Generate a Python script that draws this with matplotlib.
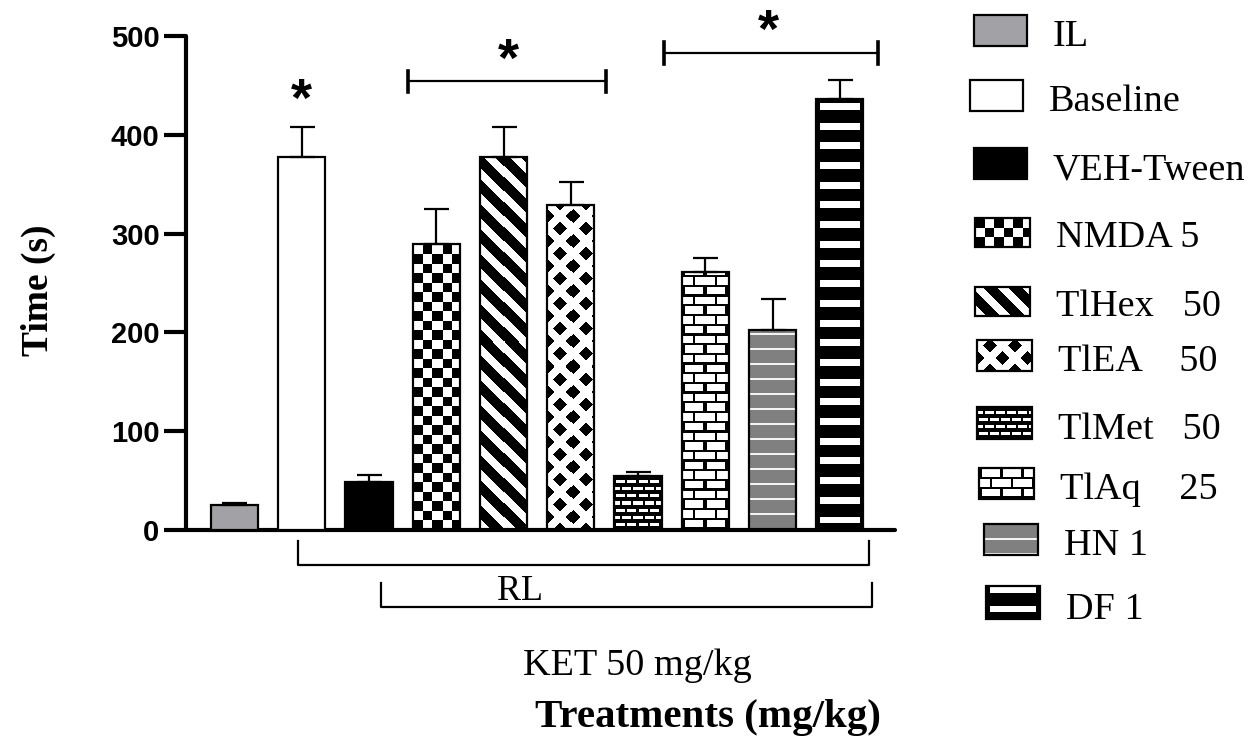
import numpy as np
import matplotlib
matplotlib.use('Agg')
import matplotlib.pyplot as plt
from matplotlib.patches import Rectangle
import matplotlib.transforms as mtransforms

plt.rcParams['font.family'] = 'Liberation Sans'

# data
labels = ['IL', 'Baseline', 'VEH-Tween', 'NMDA 5', 'TlHex   50', 'TlEA    50',
          'TlMet   50', 'TlAq    25', 'HN 1', 'DF 1']
means = [25, 378, 49, 289, 378, 329, 55, 261, 202, 436]
sem = [2, 30, 7, 36, 30, 23, 4, 14, 32, 19]
fills = ['gray', 'white', 'black', 'checker', 'stripes', 'diamonds',
         'brick_dark', 'brick', 'hlines_gray', 'hlines_black']
solid = {'gray': '#a2a2a6', 'white': 'white', 'black': 'black'}


def pattern(kind, w, h):
    yy, xx = np.mgrid[0:h, 0:w].astype(float)
    if kind == 'checker':
        s = 9.5
        img = (np.floor(xx / s) + np.floor(yy / s)) % 2
    elif kind == 'stripes':
        img = (((xx + yy) % 25) < 11).astype(float)
    elif kind == 'diamonds':
        p = 25.0
        du = (xx + yy) % p - p / 2
        dv = (xx - yy) % p - p / 2
        img = 1.0 - ((np.abs(du) < 7) & (np.abs(dv) < 7))
    elif kind == 'brick':
        off = (np.floor(yy / 9.7) % 2) * 10.5
        img = 1.0 - (((yy % 9.7) < 2.3) | (((xx + off) % 21) < 2.5))
    elif kind == 'brick_dark':
        off = (np.floor(yy / 7) % 2) * 5.5
        img = 1.0 - (((yy % 7) < 4) | (((xx + off) % 11) < 2))
    elif kind == 'hlines_gray':
        img = np.full((h, w), 0.5)
        img[(yy % 15) < 2] = 0.95
    elif kind == 'hlines_black':
        img = np.zeros((h, w))
        m = ((yy % 19.7) > 6) & ((yy % 19.7) < 13) & (xx > 3) & (xx < w - 4)
        img[m] = 1
    return img


W, H = 1257, 738
fig = plt.figure(figsize=(W / 100, H / 100), dpi=100)
ax_l, ax_r, ax_t, ax_b = 186, 895, 36, 530
ax = fig.add_axes([ax_l / W, 1 - ax_b / H, (ax_r - ax_l) / W, (ax_b - ax_t) / H])

xlim = (-0.72, 9.82)
ylim = (0, 500)
ppx = (ax_r - ax_l) / (xlim[1] - xlim[0])
ppy = (ax_b - ax_t) / (ylim[1] - ylim[0])
bw = 0.7

x = np.arange(len(means))
for i, (v, kind) in enumerate(zip(means, fills)):
    fc = solid.get(kind, 'none')
    bar = ax.bar(x[i], v, width=bw, facecolor=fc, edgecolor='black',
                 linewidth=1.6, zorder=3)[0]
    if kind not in solid:
        img = pattern(kind, int(round(bw * ppx)), max(1, int(round(v * ppy))))
        im = ax.imshow(img, cmap='gray', vmin=0, vmax=1, origin='lower',
                       extent=(x[i] - bw / 2, x[i] + bw / 2, 0, v),
                       interpolation='nearest', aspect='auto', zorder=2)
        im.set_clip_path(bar)

ax.errorbar(x, means, yerr=[np.zeros(len(sem)), sem], fmt='none',
            ecolor='black', elinewidth=1.6, capsize=9, capthick=1.6, zorder=4)

ax.set_xlim(*xlim)
ax.set_ylim(*ylim)
ax.set_xticks([])
ax.set_yticks([0, 100, 200, 300, 400, 500])
ax.tick_params(axis='y', length=15.5, width=3, pad=3.5, labelsize=21)
for lab in ax.get_yticklabels():
    lab.set_fontweight('bold')
for s in ['top', 'right']:
    ax.spines[s].set_visible(False)
for s in ['left', 'bottom']:
    ax.spines[s].set_linewidth(3)
    ax.spines[s].set_capstyle('round')

# significance brackets above bars
def top_bracket(x0, x1, y, h=11):
    ax.plot([x0, x1], [y, y], color='black', lw=1.6, clip_on=False)
    for xx in (x0, x1):
        ax.plot([xx, xx], [y - h, y + h], color='black', lw=2.6, clip_on=False)

top_bracket(2.58, 5.53, 454)
top_bracket(6.38, 9.56, 483)
star_kw = dict(ha='center', va='center', fontsize=39, fontweight='bold', clip_on=False)
ax.text(1, 433, '*', **star_kw)
ax.text(4.08, 474, '*', **star_kw)
ax.text(7.94, 503, '*', **star_kw)

# group brackets under axis
trans = mtransforms.blended_transform_factory(ax.transData, ax.transAxes)
def low_bracket(x0, x1, y, ytick):
    ax.plot([x0, x0, x1, x1], [ytick, y, y, ytick], color='black', lw=1.6,
            transform=trans, clip_on=False)

low_bracket(0.95, 9.44, -(565 - ax_b) / (ax_b - ax_t), -(541 - ax_b) / (ax_b - ax_t))
low_bracket(2.18, 9.48, -(607 - ax_b) / (ax_b - ax_t), -(583 - ax_b) / (ax_b - ax_t))

serif = 'Liberation Serif'
fig.text(520 / W, 1 - 600 / H, 'RL', ha='center', va='baseline', fontsize=26, family=serif)
fig.text(637 / W, 1 - 675 / H, 'KET 50 mg/kg', ha='center', va='baseline', fontsize=27.5, family=serif)
fig.text(708 / W, 1 - 727 / H, 'Treatments (mg/kg)', ha='center', va='baseline',
         fontsize=29.5, fontweight='bold', family=serif)
fig.text(38 / W, 1 - 290 / H, 'Time (s)', ha='center', va='center', rotation=90,
         fontsize=27, fontweight='bold', family=serif)

# legend drawn by hand in pixel coordinates
leg = fig.add_axes([0, 0, 1, 1])
leg.set_xlim(0, W)
leg.set_ylim(H, 0)
leg.axis('off')
boxes = [(974, 15, 1027, 46), (970, 80, 1023, 111), (974, 148, 1027, 179),
         (975, 218, 1030, 247), (975, 287, 1030, 316), (977, 340, 1032, 371),
         (977, 407, 1032, 439), (979, 468, 1034, 499), (984, 524, 1038, 555),
         (986, 586, 1040, 619)]
for lab, kind, (x0, y0, x1, y1) in zip(labels, fills, boxes):
    rect = Rectangle((x0, y0), x1 - x0, y1 - y0, facecolor=solid.get(kind, 'none'),
                     edgecolor='black', linewidth=1.6, zorder=3)
    leg.add_patch(rect)
    if kind not in solid:
        img = pattern(kind, x1 - x0, y1 - y0)
        im = leg.imshow(img, cmap='gray', vmin=0, vmax=1, origin='lower',
                        extent=(x0, x1, y1, y0), interpolation='nearest',
                        aspect='auto', zorder=2)
        im.set_clip_path(rect)
    leg.text(x1 + 26, y1, lab, ha='left', va='baseline', fontsize=27.5, family=serif)
leg.set_xlim(0, W)
leg.set_ylim(H, 0)

fig.savefig('out.png', dpi=100)
